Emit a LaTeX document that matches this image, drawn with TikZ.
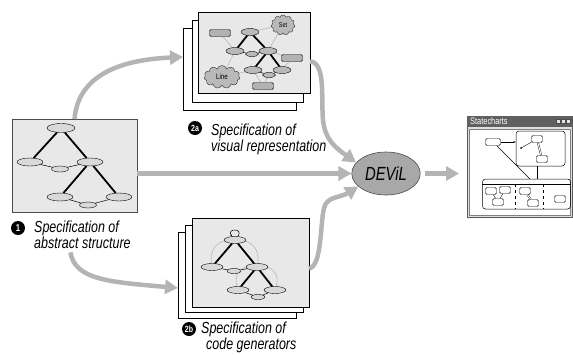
\documentclass[tikz,border=0pt]{standalone}
\usepackage{fontspec}
\setmainfont{Liberation Sans}[FakeStretch=0.78]
\usepackage{xcolor}
\usepackage{tikz}
\usetikzlibrary{shapes.geometric, shapes.symbols, arrows.meta, positioning, calc}

\definecolor{flowgray}{HTML}{B4B4B4}
\definecolor{pagegray}{HTML}{E8E8E8}
\definecolor{devilgray}{HTML}{A8A8A8}

\begin{document}
\begin{tikzpicture}[
    x=1pt, y=-1pt,
    flow/.style = {line width=4.5pt, draw=flowgray, -{Triangle[length=13pt,width=14pt]}},
    page/.style = {rectangle, draw=black, fill=white, line width=0.6pt, inner sep=0pt, outer sep=0pt, anchor=north west},
    frontpage/.style = {page, fill=pagegray},
    st/.style = {ellipse, draw=black, fill=gray!30, line width=0.4pt, inner sep=0pt, minimum width=26pt, minimum height=8pt},
    stsmall/.style = {st, minimum width=17pt, minimum height=6pt},
    vst/.style = {st, fill=gray!55, minimum width=18pt, minimum height=7pt},
    tag/.style = {rectangle, rounded corners=1.5pt, draw=black, fill=gray!60, line width=0.4pt, inner sep=0pt, minimum width=21pt, minimum height=7pt},
    puff/.style = {cloud, cloud puffs=11, cloud ignores aspect, draw=black!80, fill=gray!55, line width=0.4pt, inner sep=0pt, font=\fontsize{7}{7}\selectfont},
    strong/.style = {line width=1.8pt},
    weak/.style = {line width=0.5pt},
    hint/.style = {line width=0.4pt, draw=gray!70},
    caption/.style = {anchor=base west, align=left, inner sep=0pt, font=\fontsize{16}{16}\selectfont\itshape},
    num/.style = {circle, fill=black, text=white, inner sep=0pt, minimum size=14pt, font=\fontsize{10}{10}\selectfont\bfseries},
    sc/.style = {rectangle, rounded corners=1.5pt, draw=black, fill=white, line width=0.4pt, inner sep=0pt, minimum width=11pt, minimum height=7pt},
    scgroup/.style = {rectangle, rounded corners=3pt, draw=black, line width=0.5pt, inner sep=0pt}
]
\useasboundingbox (0,0) rectangle (573,354);

% Abstract structure
\node (abs) [frontpage, draw=black!70, minimum width=125pt, minimum height=93pt] at (12,119) {};
\node (a1) [st, minimum width=28pt, minimum height=9pt] at (61,128) {};
\node (a2) [st] at (30,162) {};
\node (a3) [stsmall] at (60,169) {};
\node (a4) [st] at (90,162) {};
\node (a5) [st] at (60,197) {};
\node (a6) [st] at (119,197) {};
\node (a7) [stsmall] at (88,205) {};
\draw [strong] (a1) -- (a2);
\draw [strong] (a1) -- (a4);
\draw [strong] (a4) -- (a5);
\draw [strong] (a4) -- (a6);
\draw [weak] (a2) -- (a3) -- (a4);
\draw [weak] (a5) -- (a7) -- (a6);

\node (n1) [num] at (18,228) {1};
\node (lab1) [caption] at (34,248) {Specification of\\abstract structure};

% Visual representation
\node (vis3) [page, minimum width=113pt, minimum height=82pt] at (183,28) {};
\node (vis2) [page, minimum width=111pt, minimum height=82pt] at (192,20) {};
\node (vis1) [frontpage, minimum width=112pt, minimum height=81pt] at (198,12) {};
\node (setc) [puff, minimum width=24pt, minimum height=20pt] at (283,25) {Set};
\node (linec) [puff, minimum width=36pt, minimum height=23pt, font=\fontsize{8}{8}\selectfont] at (222,77) {Line};
\node (v1) [vst] at (250,32) {};
\node (v2) [vst] at (235,51) {};
\node (v3) [vst, minimum width=13pt, minimum height=5pt] at (252,54) {};
\node (v4) [vst] at (268,51) {};
\node (v5) [vst] at (253,70) {};
\node (v6) [vst] at (282,70) {};
\node (v7) [vst, minimum width=13pt, minimum height=5pt] at (269,75) {};
\node (g1) [tag] at (220,33) {};
\node (g2) [tag] at (292,58) {};
\node (g3) [tag] at (263,86) {};
\draw [hint] (g1) -- (v2);
\draw [hint] (v1) -- (setc);
\draw [hint] (v4) -- (setc);
\draw [hint] (v4) -- (g2);
\draw [hint] (v6) -- (g2);
\draw [hint] (linec) -- (v2);
\draw [hint] (linec) -- (v5);
\draw [hint] (v5) -- (g3);
\draw [hint] (v7) -- (g3);
\draw [strong] (v1) -- (v2);
\draw [strong] (v1) -- (v4);
\draw [strong] (v4) -- (v5);
\draw [strong] (v4) -- (v6);
\draw [weak] (v2) -- (v3) -- (v4);
\draw [weak] (v5) -- (v7) -- (v6);

\node (n2a) [num, font=\fontsize{9}{9}\selectfont\bfseries] at (195,128) {2a};
\node (lab2a) [caption] at (211,151) {Specification of\\visual representation};

% Code generators
\node (code3) [page, minimum width=118pt, minimum height=86pt] at (178,232) {};
\node (code2) [page, minimum width=118pt, minimum height=87pt] at (185,225) {};
\node (code1) [frontpage, minimum width=117pt, minimum height=89pt] at (192,218) {};
\node (c1) [st, minimum width=22pt, minimum height=7pt] at (235,240) {};
\node (c2) [st, minimum width=22pt, minimum height=7pt] at (212,267) {};
\node (c3) [stsmall, minimum width=14pt, minimum height=5pt] at (234,271) {};
\node (c4) [st, minimum width=22pt, minimum height=7pt] at (257,267) {};
\node (c5) [st, minimum width=22pt, minimum height=7pt] at (238,290) {};
\node (c6) [st, minimum width=22pt, minimum height=7pt] at (275,290) {};
\node (c7) [stsmall, minimum width=14pt, minimum height=5pt] at (258,297) {};
\draw [hint] (c1) to[bend right=45] (c2);
\draw [hint] (c1) to[bend left=45] (c4);
\draw [hint] (c4) to[bend left=50] (c6);
\draw [hint] (c4) to[bend right=50] (c5);
\draw [weak, -{Stealth[length=2pt]}] (c1.50) .. controls (244,228) and (226,228) .. (c1.130);
\draw [strong] (c1) -- (c2);
\draw [strong] (c1) -- (c4);
\draw [strong] (c4) -- (c5);
\draw [strong] (c4) -- (c6);
\draw [weak] (c2) -- (c3) -- (c4);
\draw [weak] (c5) -- (c7) -- (c6);

\node (n2b) [num, font=\fontsize{9}{9}\selectfont\bfseries] at (189,329) {2b};
\node (lab2b) [caption] at (201,349) {Specification of\\\hspace*{5pt}code generators};

% DEViL
\node (devil) [ellipse, draw=black!70, fill=devilgray, line width=0.6pt, minimum width=68pt, minimum height=43pt, font=\fontsize{19}{19}\selectfont\itshape] at (386,173.5) {DEViL};

% Statecharts window
\node (win) [rectangle, draw=gray!70!black, fill=gray!25, anchor=north west, minimum width=105pt, minimum height=101pt, inner sep=0pt] at (467,116) {};
\node (wbar) [rectangle, fill=gray!75!black, anchor=north west, minimum width=105pt, minimum height=11pt, inner sep=0pt] at (467,116) {};
\node (wtitle) [anchor=west, text=white, inner sep=0pt, font=\fontsize{9.5}{9.5}\selectfont] at (470,121.5) {Statecharts};
\foreach \bx in {556,561,566}
    \node (btn\bx) [rectangle, draw=black!70, fill=gray!20, minimum size=4pt, inner sep=0pt, anchor=north west] at (\bx,119) {};
\node (warea) [rectangle, draw=gray, fill=white, anchor=north west, minimum width=101pt, minimum height=86pt, inner sep=0pt] at (469,128.5) {};
\node (grp1) [scgroup, minimum width=49pt, minimum height=35pt] at (540.5,148.5) {};
\node (grp2) [scgroup, minimum width=88pt, minimum height=30pt] at (526.5,194) {};
\draw [line width=0.4pt] ([yshift=-5pt]grp2.north west) -- ([yshift=-5pt]grp2.north east);
\draw [line width=0.4pt, dashed] (515,184) -- (515,209);
\draw [line width=0.4pt, dashed] (543,184) -- (543,209);
\node (s8) [sc, minimum width=15pt] at (493,142) {};
\node (s1) [sc] at (537,139) {};
\node (s2) [sc] at (542,159) {};
\node (sdot) [circle, fill=black, inner sep=0pt, minimum size=2pt] at (521,148) {};
\node (b1) [sc] at (491,191) {};
\node (b2) [sc] at (505,190) {};
\node (b3) [sc] at (498,202) {};
\node (b4) [sc] at (525,191) {};
\node (b5) [sc] at (533,203) {};
\node (b6) [sc] at (560,199) {};
\coordinate (g2in) at (530,179);
\draw [line width=0.4pt, -{Stealth[length=2.5pt]}] (s8) -- (grp1.west |- s8);
\draw [line width=0.4pt] (s8) -- (g2in);
\draw [line width=0.4pt] (grp1.south -| s1) -- (grp2.north -| s1);
\draw [line width=0.4pt] (sdot) -- (s1);
\draw [line width=0.4pt, double distance=1pt] (s1) -- (s2);
\draw [line width=0.4pt] (b1) -- (b3);
\draw [line width=0.4pt] (b2) -- (b3);
\draw [line width=0.4pt, double distance=1pt] (b4) -- (b5);

% Arrows
\draw [flow] (abs.north) .. controls (78,78) and (115,60) .. ([yshift=12pt]vis3.west);
\draw [flow] (abs.east |- devil.west) -- (devil.west);
\draw [flow] ([xshift=-12pt,yshift=-4pt]lab1.south) .. controls (75,280) and (110,282) .. ([yshift=-13pt]code3.west);
\draw [flow] ([yshift=-9pt]vis1.east) .. controls (326,62) and (321,100) .. (323,120) .. controls (325,140) and (336,148) .. (devil.160);
\draw [flow] ([yshift=-6pt]code1.east) .. controls (322,266) and (320,225) .. (324,208) .. controls (327,196) and (340,198) .. (devil.205);
\draw [flow, shorten <=4pt, shorten >=8pt] (devil.east) -- (devil.east -| win.west);

\end{tikzpicture}
\end{document}
